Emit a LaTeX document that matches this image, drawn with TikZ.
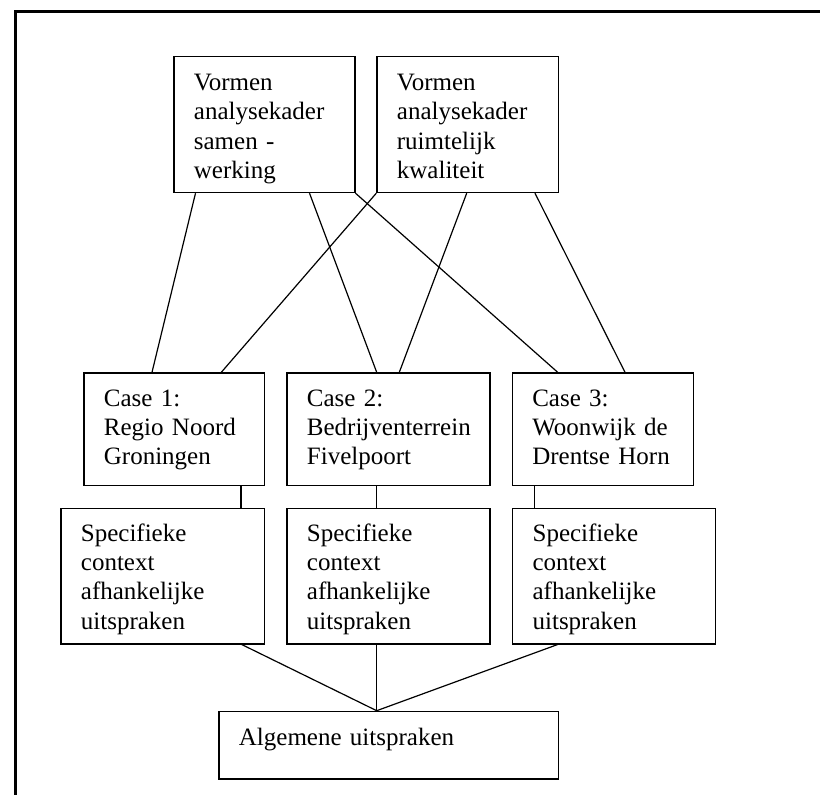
\documentclass[tikz,border=0pt]{standalone}
\usepackage{fontspec}
\setmainfont{Liberation Serif}
\tikzset{
	vak/.style={draw, line width=1.2pt, anchor=north west, align=left, inner xsep=20pt, inner ysep=0pt, font=\fontsize{25}{29.3}\selectfont},
	lijn/.style={line width=1.2pt}
}

\begin{document}
\begin{tikzpicture}[x=1pt, y=-1pt]
			%%%%% START %%%%%
			\useasboundingbox (0, 0) rectangle (820, 795);
			
			\draw[line width=3pt] (15, 795) -- (15, 11.5) -- (820, 11.5);
			
			\node[vak, text width=141pt, text height=34.3pt, text depth=102pt] (vs) at (173.3, 55.7) {Vormen\\analysekader\\samen -\\werking};
			\node[vak, text width=141.4pt, text height=34.3pt, text depth=102pt] (vr) at (376.3, 55.7) {Vormen\\analysekader\\ruimtelijk\\kwaliteit};
			
			\node[vak, text width=140.7pt, text height=33.4pt, text depth=79.1pt] (c1) at (83.3, 372.3) {Case 1:\\Regio Noord\\Groningen};
			\node[vak, text width=163pt, text height=33.4pt, text depth=79.1pt] (c2) at (286.3, 372.3) {Case 2:\\Bedrijventerrein\\Fivelpoort};
			\node[vak, text width=141.3pt, text height=33.4pt, text depth=79.1pt] (c3) at (511.7, 372.3) {Case 3:\\Woonwijk de\\Drentse Horn};
			
			\node[vak, text width=163.7pt, text height=32.4pt, text depth=102.7pt] (s1) at (60.3, 508.2) {Specifieke\\context\\afhankelijke\\uitspraken};
			\node[vak, text width=163pt, text height=32.4pt, text depth=102.7pt] (s2) at (286.3, 508.2) {Specifieke\\context\\afhankelijke\\uitspraken};
			\node[vak, text width=163pt, text height=32.4pt, text depth=102.7pt] (s3) at (512, 508.2) {Specifieke\\context\\afhankelijke\\uitspraken};
			
			\node[vak, text width=299.4pt, text height=34.3pt, text depth=33.3pt] (alg) at (218.3, 710.7) {Algemene uitspraken};
			
			% analysekaders naar cases
			\draw[lijn] ([xshift=22.2pt]vs.south west) -- ([xshift=68.7pt]c1.north west);
			\draw[lijn] ([xshift=136.2pt]vs.south west) -- ([xshift=90.4pt]c2.north west);
			\draw[lijn] (vs.south east) -- ([xshift=46pt]c3.north west);
			\draw[lijn] (vr.south west) -- ([xshift=138pt]c1.north west);
			\draw[lijn] ([xshift=90.4pt]vr.south west) -- ([xshift=113pt]c2.north west);
			\draw[lijn] ([xshift=158.7pt]vr.south west) -- ([xshift=113.3pt]c3.north west);
			
			% cases naar uitspraken
			\draw[lijn] ([xshift=157.7pt]c1.south west) -- ([xshift=180.7pt]s1.north west);
			\draw[lijn] ([xshift=90.4pt]c2.south west) -- ([xshift=90.4pt]s2.north west);
			\draw[lijn] ([xshift=23pt]c3.south west) -- ([xshift=22.7pt]s3.north west);
			
			\draw[lijn] ([xshift=181.4pt]s1.south west) -- ([xshift=158.4pt]alg.north west);
			\draw[lijn] ([xshift=90.4pt]s2.south west) -- ([xshift=158.4pt]alg.north west);
			\draw[lijn] ([xshift=45.7pt]s3.south west) -- ([xshift=158.4pt]alg.north west);
			
			%%%%% END %%%%%
\end{tikzpicture}
\end{document}
